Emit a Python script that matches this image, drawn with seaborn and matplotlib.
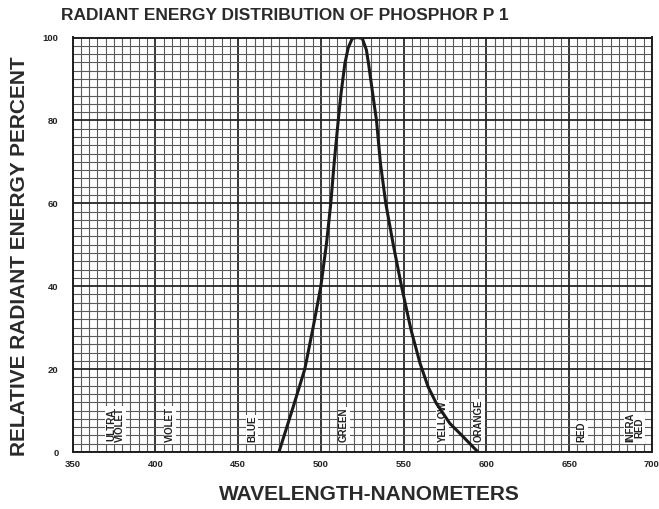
import numpy as np
import pandas as pd
import matplotlib
matplotlib.use("Agg")
import matplotlib.pyplot as plt
import seaborn as sns

# Data
wavelength = [474.7, 483.3, 490.3, 495.4, 500.0, 503.4, 506.0, 508.0, 510.5, 512.2,
              514.5, 516.5, 519.0, 522.0, 525.0, 527.5, 528.8, 531.6, 533.6, 536.0,
              539.2, 543.6, 548.7, 554.5, 559.9, 564.8, 569.8, 577.9, 585.9, 594.9]
energy = [0.0, 10.9, 20.0, 30.2, 40.0, 50.3, 60.0, 69.6, 80.0, 86.5,
          93.7, 97.5, 99.8, 100.0, 99.8, 97.0, 93.7, 85.6, 80.0, 69.6,
          60.0, 50.3, 40.0, 29.4, 21.4, 15.7, 11.7, 6.9, 3.7, 0.0]

band_labels = ["ULTRA\nVIOLET", "VIOLET", "BLUE", "GREEN", "YELLOW", "ORANGE", "RED", "INFRA\nRED"]
band_positions = [376, 409, 458.5, 514, 573.5, 595.5, 657.5, 689.5]

x_ticks = [350, 400, 450, 500, 550, 600, 650, 700]
y_ticks = [0, 20, 40, 60, 80, 100]

df = pd.DataFrame({"wavelength": wavelength, "energy": energy})

sns.set_style("white")
plt.rcParams["font.family"] = ["Liberation Sans", "DejaVu Sans"]

fig = plt.figure(figsize=(6.59, 5.09), dpi=100)
ax = fig.add_axes([72.5 / 659, 1 - 452 / 509, (652 - 72.5) / 659, (452 - 37.5) / 509])

ax.set_xlim(350, 700)
ax.set_ylim(0, 100)
ax.set_xticks(x_ticks)
ax.set_yticks(y_ticks)
ax.set_xticks(np.arange(350, 701, 5), minor=True)
ax.set_yticks(np.arange(0, 101, 2), minor=True)
ax.grid(which="minor", color="#5a5a5a", linewidth=0.8)
ax.grid(which="major", color="#1e1e1e", linewidth=1.25)
ax.set_axisbelow(True)
ax.tick_params(which="both", length=0)
ax.tick_params(axis="x", pad=6)
ax.tick_params(axis="y", pad=10)
for lab in ax.get_xticklabels() + ax.get_yticklabels():
    lab.set_fontsize(6.8)
    lab.set_fontweight("bold")
    lab.set_color("#222222")

for s in ax.spines.values():
    s.set_color("#1e1e1e")
    s.set_linewidth(1.4)

sns.lineplot(data=df, x="wavelength", y="energy", sort=False, color="#1a1a1a",
             linewidth=2.2, ax=ax, zorder=5)

for lab, pos in zip(band_labels, band_positions):
    ax.text(pos, 2.3, lab, rotation=90, ha="center", va="bottom", fontsize=7,
            fontweight="bold", color="#222222", linespacing=0.9, zorder=4,
            bbox=dict(facecolor="white", edgecolor="none", pad=0.8))

ax.set_xlabel("")
ax.set_ylabel("")
fig.text(369 / 659, 1 - 494 / 509, "WAVELENGTH-NANOMETERS", ha="center", va="center",
         fontsize=15, fontweight="bold", color="#2a2a2a")
fig.text(20 / 659, 1 - 256 / 509, "RELATIVE RADIANT ENERGY PERCENT", ha="center", va="center",
         rotation=90, fontsize=15, fontweight="bold", color="#2a2a2a")
fig.text(285 / 659, 1 - 16 / 509, "RADIANT ENERGY DISTRIBUTION OF PHOSPHOR P 1", ha="center",
         va="center", fontsize=12.5, fontweight="bold", color="#2a2a2a")

fig.savefig("out.png", dpi=100)
